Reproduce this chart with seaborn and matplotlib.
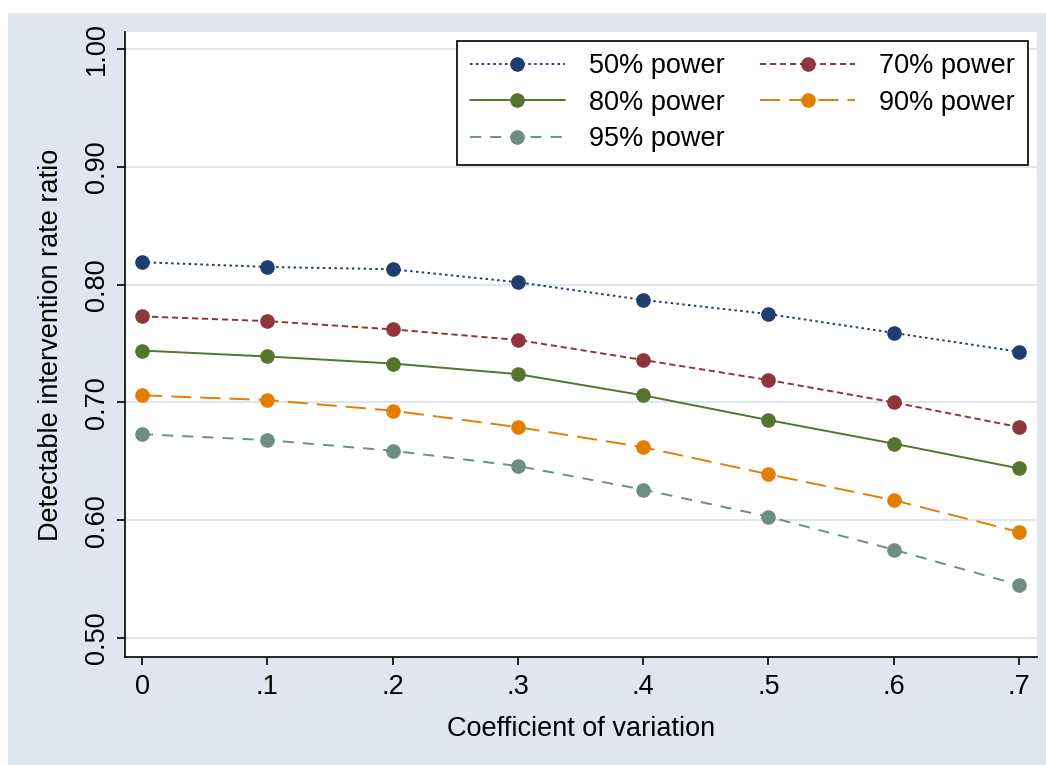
import matplotlib
matplotlib.use("Agg")
import matplotlib.pyplot as plt
import pandas as pd
import seaborn as sns
from matplotlib.patches import Rectangle

# values
cv = [0, 0.1, 0.2, 0.3, 0.4, 0.5, 0.6, 0.7]
power_50 = [0.819, 0.815, 0.813, 0.802, 0.787, 0.775, 0.759, 0.743]
power_70 = [0.773, 0.769, 0.762, 0.753, 0.736, 0.719, 0.700, 0.679]
power_80 = [0.744, 0.739, 0.733, 0.724, 0.706, 0.685, 0.665, 0.644]
power_90 = [0.706, 0.702, 0.693, 0.679, 0.662, 0.639, 0.617, 0.590]
power_95 = [0.673, 0.668, 0.659, 0.646, 0.626, 0.603, 0.575, 0.545]
series_names = ["50% power", "70% power", "80% power", "90% power", "95% power"]
x_ticklabels = ["0", ".1", ".2", ".3", ".4", ".5", ".6", ".7"]
y_ticks = [0.5, 0.6, 0.7, 0.8, 0.9, 1.0]

# long form table for seaborn
series_values = [power_50, power_70, power_80, power_90, power_95]
df = pd.concat(
    [pd.DataFrame({"cv": cv, "ratio": v, "power": name})
     for name, v in zip(series_names, series_values)],
    ignore_index=True,
)

sns.set_style("white")
plt.rcParams["font.family"] = ["Liberation Sans", "DejaVu Sans"]
plt.rcParams["lines.scale_dashes"] = False
plt.rcParams["text.color"] = "black"
plt.rcParams["axes.labelcolor"] = "black"

bg = "#e0e5ef"
palette = {
    "50% power": "#1f3d6e",
    "70% power": "#90353b",
    "80% power": "#55752f",
    "90% power": "#e37e00",
    "95% power": "#6e8e84",
}
dashes = {
    "50% power": (1.8, 2.4),
    "70% power": (4.5, 2.7),
    "80% power": "",
    "90% power": (14.5, 6.5),
    "95% power": (8, 6.5),
}
markers = {name: "o" for name in series_names}

fig = plt.figure(figsize=(10.46, 7.65), dpi=100, facecolor="white")
fig.patches.append(Rectangle((8 / 1046, 0), 1, (765 - 13) / 765,
                             transform=fig.transFigure, facecolor=bg,
                             edgecolor="none", zorder=-10))
ax = fig.add_axes([125 / 1046, 108 / 765, 912 / 1046, 625 / 765])
ax.set_facecolor("white")

sns.lineplot(data=df, x="cv", y="ratio", hue="power", style="power",
             palette=palette, dashes=dashes, markers=markers,
             hue_order=series_names, style_order=series_names,
             linewidth=1.4, markersize=10.5, markeredgewidth=0,
             legend=False, ax=ax)

ax.set_xlim(-0.01357, 0.7143)
ax.set_ylim(0.4839, 1.0144)
ax.set_xticks(cv)
ax.set_xticklabels(x_ticklabels)
ax.set_yticks(y_ticks)
ax.set_yticklabels([f"{v:.2f}" for v in y_ticks], rotation=90, va="center")
ax.yaxis.grid(True, color=bg, linewidth=1.5)
ax.set_axisbelow(True)

for side in ["top", "right"]:
    ax.spines[side].set_visible(False)
for side in ["left", "bottom"]:
    ax.spines[side].set_color("black")
    ax.spines[side].set_linewidth(1.2)

ax.tick_params(axis="both", direction="out", length=6, width=1.2,
               left=True, bottom=True,
               color="black", labelsize=19.5, labelcolor="black")
ax.tick_params(axis="y", pad=5)
ax.tick_params(axis="x", pad=6)
ax.set_xlabel("Coefficient of variation", fontsize=19.5, labelpad=12)
ax.set_ylabel("Detectable intervention rate ratio", fontsize=19.5, labelpad=14)

# legend: two columns, 50/70 on top, 80/90 next, 95 alone
lines = ax.get_lines()[:len(series_names)]
handle_map = dict(zip(series_names, lines))
order = ["50% power", "80% power", "95% power", "70% power", "90% power"]
leg = ax.legend([handle_map[n] for n in order], order, ncol=2,
                loc="upper right", bbox_to_anchor=(0.990, 0.986),
                borderaxespad=0, fontsize=19.5, frameon=True, fancybox=False,
                handlelength=3.5, handletextpad=0.9, columnspacing=1.3,
                labelspacing=0.38, borderpad=0.47)
leg.get_frame().set_edgecolor("black")
leg.get_frame().set_linewidth(1.2)
leg.get_frame().set_facecolor("white")
leg.get_frame().set_alpha(1)

fig.savefig("out.png", dpi=100, facecolor=fig.get_facecolor())
